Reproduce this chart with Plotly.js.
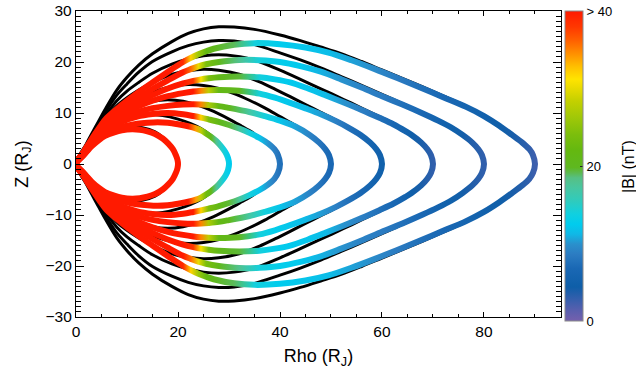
<!DOCTYPE html>
<html>
<head>
<meta charset="utf-8">
<script src="https://cdn.plot.ly/plotly-3.0.1.min.js"></script>
<style>
  html, body { margin: 0; padding: 0; background: #ffffff; }
  #plot { width: 636px; height: 377px; }
</style>
</head>
<body>
<div id="plot"></div>
<script>
// Equatorial crossing distance of each traced field line (R_J)
const shells = [20, 30, 40, 50, 60, 70, 80, 90];

// Northern half of each model field line: cylindrical distance (R_J), height (R_J), |B| (nT)
const rho20 = [0, 1, 2, 3.1, 4.5, 5.7, 7.5, 9, 11, 12.5, 14, 15.5, 17, 18.1, 19, 19.6, 19.9, 20];
const z20   = [0, 1.2, 2.3, 3.5, 4.7, 5.5, 6.2, 6.6, 6.8, 6.7, 6.4, 5.9, 5.0, 4.0, 2.9, 1.7, 0.8, 0];
const b20   = [60, 58, 56, 54, 52, 50, 48, 47, 46, 45, 45, 44, 44, 43, 43, 42, 42, 42];

const rho30 = [0, 1.5, 3, 4.5, 6, 8, 10, 12, 14, 16, 18, 20, 22, 23.5, 24.5, 25.5, 26.5, 27.5, 28.5, 29.3, 29.8, 30];
const z30   = [0, 1.8, 3.6, 5.0, 6.1, 6.9, 7.5, 7.9, 8.1, 8.2, 8.1, 7.8, 7.4, 7.0, 6.6, 6.0, 5.3, 4.5, 3.4, 2.3, 1.2, 0];
const b30   = [60, 58, 56, 54, 52, 50, 49, 48, 47, 46, 45, 44, 41, 34, 28, 23, 20.5, 18, 15, 13.5, 12.8, 12.5];

const rho40 = [0, 1.5, 3, 4.5, 6, 9, 12, 15, 18, 21, 23, 24.5, 26, 28, 30, 32, 34, 36, 37.7, 38.9, 39.6, 40];
const z40   = [0, 1.9, 3.8, 5.4, 6.8, 8.3, 9.3, 9.8, 10.0, 9.75, 9.4, 9.1, 8.75, 8.25, 7.65, 6.95, 6.1, 5.1, 4.0, 2.9, 1.75, 0];
const b40   = [60, 58, 56, 54, 52, 50, 48, 46, 44, 42, 40, 32, 24, 21, 19.5, 17.5, 14, 12, 10, 8.8, 8, 7.5];

const rho50 = [0, 1.5, 3, 4.5, 6, 9, 12, 15, 18, 21, 23, 24.5, 26, 28, 30, 34, 37, 40, 43, 45.8, 47.7, 48.9, 49.6, 50];
const z50   = [0, 2.0, 4.0, 5.8, 7.2, 9.0, 10.2, 10.95, 11.4, 11.65, 11.7, 11.65, 11.55, 11.35, 11.0, 10.2, 9.4, 8.5, 7.35, 5.7, 4.2, 2.9, 1.75, 0];
const b50   = [60, 58, 56, 54, 52, 50, 48, 46, 44, 42, 41, 35, 27, 21.5, 20.5, 17, 14, 12, 10.5, 9, 8, 7.2, 6.8, 6.5];

const rho60 = [0, 1.5, 3, 4.5, 6, 9, 12, 15, 18, 21, 23, 24.5, 26, 28, 32, 36, 39, 42, 45, 48, 51, 53.3, 55.8, 57.7, 58.9, 59.6, 60];
const z60   = [0, 2.1, 4.2, 6.0, 7.6, 9.6, 11.2, 12.4, 13.3, 13.9, 14.2, 14.35, 14.45, 14.5, 14.35, 13.8, 13.0, 12.0, 10.9, 9.75, 8.4, 7.2, 5.7, 4.2, 2.9, 1.75, 0];
const b60   = [60, 58, 56, 54, 52, 50, 48, 46, 44, 42, 41, 35, 28, 21.5, 20, 14, 12.8, 12, 11.3, 10.3, 8.8, 7.6, 6.5, 5.8, 5.4, 5.1, 5];

const rho70 = [0, 1.5, 3, 4.5, 6, 9, 12, 15, 18, 21, 23, 24.5, 26, 28, 32, 36, 39, 42, 45.5, 49, 52.5, 56, 59.5, 62.2, 64.6, 65.8, 67.7, 68.9, 69.6, 70];
const z70   = [0, 2.2, 4.4, 6.3, 8.0, 10.2, 12.0, 13.5, 14.8, 15.8, 16.3, 16.6, 16.8, 17.0, 17.15, 17.0, 16.6, 16.0, 14.8, 13.45, 12.05, 10.6, 9.05, 7.8, 6.45, 5.7, 4.2, 2.9, 1.75, 0];
const b70   = [60, 58, 56, 54, 52, 50, 48, 46, 44, 42, 38, 31, 24, 21, 19.5, 14, 12.8, 12.3, 12, 11.3, 10, 8.8, 7.5, 6.5, 5.5, 4.6, 3.9, 3.4, 3.2, 3];

const rho80 = [0, 1.5, 3, 4.5, 6, 9, 12, 15, 18, 21, 22.5, 24, 25.5, 28, 32, 36, 40, 44, 48, 52, 56, 60, 64, 68, 71, 73.5, 75.8, 77.7, 78.9, 79.6, 80];
const z80   = [0, 2.3, 4.6, 6.6, 8.5, 10.8, 12.8, 14.7, 16.4, 18.0, 18.6, 19.15, 19.55, 20.0, 20.4, 20.35, 20.0, 19.2, 18.1, 16.6, 15.0, 13.3, 11.65, 9.9, 8.5, 7.2, 5.7, 4.2, 2.9, 1.75, 0];
const b80   = [60, 58, 56, 54, 52, 50, 48, 46, 44, 42, 36, 30, 24, 20.5, 18, 14, 12.8, 12.3, 11, 10, 9, 8.5, 7.5, 6.5, 5.6, 5, 4.2, 3.6, 3.3, 3.1, 3];

const rho90 = [0, 1.5, 3, 4.5, 6, 9, 12, 15, 18.5, 21, 22.5, 24, 25.5, 27, 31, 35, 40, 45, 49.5, 54, 58.5, 63, 67.5, 72, 76.5, 80, 83, 85.5, 87.5, 88.9, 89.6, 90];
const z90   = [0, 2.4, 4.8, 7.0, 9.0, 11.6, 13.9, 16.0, 18.4, 20.0, 20.8, 21.5, 22.1, 22.6, 23.4, 23.7, 23.5, 22.85, 21.85, 20.35, 18.65, 16.85, 15.0, 13.1, 11.2, 9.4, 7.5, 5.7, 4.2, 2.9, 1.75, 0];
const b90   = [60, 58, 56, 54, 52, 50, 48, 46, 43, 39, 32, 26, 22, 20.5, 19, 14, 12.5, 12, 11.5, 10.5, 9.5, 8.5, 7.5, 6.5, 6, 5.2, 4.6, 4, 3.4, 3, 2.7, 2.5];

// Northern half of each reference (black) field line
const refRho20 = [0, 1, 2, 3.5, 5, 7, 10, 13, 15.5, 17.3, 18.6, 19.5, 19.9, 20];
const refZ20   = [0, 1.3, 2.6, 4.2, 5.4, 6.6, 7.3, 7.1, 6.3, 5.0, 3.5, 1.9, 0.9, 0];
const refRho30 = [0, 1.5, 3, 5.7, 8, 11, 14, 17, 20, 22.5, 24.5, 26.3, 27.8, 28.7, 29.3, 29.8, 30];
const refZ30   = [0, 2.0, 3.8, 6.6, 8.1, 9.2, 9.7, 9.5, 8.8, 7.9, 6.95, 5.7, 4.4, 3.3, 2.35, 1.2, 0];
const refRho40 = [0, 2, 4, 5.7, 9, 12.3, 15, 18, 21, 24, 27, 30, 32.5, 34.5, 36, 37.7, 38.9, 39.6, 40];
const refZ40   = [0, 2.8, 5.3, 7.3, 9.9, 11.5, 12.3, 12.6, 12.3, 11.5, 10.3, 8.8, 7.4, 6.25, 5.2, 4.05, 2.9, 1.75, 0];
const refRho50 = [0, 2, 4, 5.7, 8, 10, 12.3, 15, 18.8, 22, 25, 28, 31, 34, 37, 40, 43, 45.8, 47.7, 48.9, 49.6, 50];
const refZ50   = [0, 3.0, 5.8, 8.0, 10.3, 11.7, 12.9, 14.1, 15.2, 15.6, 15.4, 14.8, 13.8, 12.5, 11.0, 9.3, 7.6, 5.8, 4.2, 2.9, 1.75, 0];
const refRho60 = [0, 2, 4, 5.7, 8, 10, 12.3, 15, 18.8, 22, 25, 28, 32, 36, 39, 42, 45, 48, 51, 53.3, 55.8, 57.7, 58.9, 59.6, 60];
const refZ60   = [0, 3.2, 6.2, 8.7, 11.4, 13.0, 14.5, 16.0, 17.6, 18.3, 18.6, 18.4, 17.6, 16.1, 14.7, 13.2, 11.65, 10.15, 8.6, 7.3, 5.7, 4.2, 2.9, 1.75, 0];
const refRho70 = [0, 2, 4, 5.7, 8, 10, 12.3, 15, 18.8, 22, 25, 28, 31, 35, 40, 44, 48, 52.5, 56, 59.5, 62.2, 64.6, 65.8, 67.7, 68.9, 69.6, 70];
const refZ70   = [0, 3.5, 6.8, 9.4, 12.4, 14.3, 16.0, 17.8, 19.6, 20.6, 21.2, 21.4, 21.2, 20.4, 18.4, 16.6, 14.75, 12.65, 10.98, 9.3, 7.94, 6.48, 5.7, 4.2, 2.9, 1.75, 0];
const refRho80 = [0, 2, 4, 5.7, 8, 10, 12.3, 15, 18.8, 22, 25, 28, 31, 35, 40, 44, 48, 52, 56, 60, 64, 68, 71, 73.5, 75.8, 77.7, 78.9, 79.6, 80];
const refZ80   = [0, 3.7, 7.2, 10.1, 13.5, 15.7, 18.0, 20.1, 22.0, 23.2, 23.9, 24.2, 24.1, 23.4, 21.8, 20.4, 18.85, 17.15, 15.42, 13.65, 11.85, 10.05, 8.6, 7.25, 5.7, 4.2, 2.9, 1.75, 0];
const refRho90 = [0, 2, 4, 5.7, 8, 10, 12.3, 15, 18.8, 22, 25, 28, 31, 35, 40, 44, 48, 52, 56, 60, 64, 68, 72, 76.5, 80, 83, 85.5, 87.5, 88.9, 89.6, 90];
const refZ90   = [0, 3.9, 7.6, 10.7, 14.5, 17.0, 19.4, 21.6, 24.0, 25.6, 26.5, 26.9, 26.85, 26.4, 25.3, 24.2, 22.95, 21.65, 20.1, 18.45, 16.8, 15.1, 13.35, 11.35, 9.5, 7.55, 5.72, 4.2, 2.9, 1.75, 0];

// Colour bar labels
const bTickVals = [0, 20, 40];
const bTickText = ['0', '20', '> 40'];
const bMax = 40;

// Rainbow colour table for |B|
const bColorscale = [
  [0.000, '#7560ad'], [0.033, '#5a5fae'], [0.065, '#3a5fad'], [0.110, '#0e5ea8'],
  [0.170, '#1a68b4'], [0.215, '#2c7cc2'], [0.248, '#2a90cc'], [0.280, '#10b8e6'],
  [0.312, '#00ccee'], [0.345, '#10d0e0'], [0.388, '#30cbbc'], [0.430, '#48c6a0'],
  [0.462, '#56c084'], [0.478, '#5cba50'], [0.495, '#5eb820'], [0.550, '#64b810'],
  [0.602, '#7cbe0c'], [0.657, '#a0c808'], [0.710, '#c4d000'], [0.755, '#ecdc00'],
  [0.780, '#ffe400'], [0.820, '#ffc000'], [0.862, '#ff9000'], [0.905, '#ff6000'],
  [0.948, '#ff3800'], [1.000, '#ff1a00']
];

const model = {
  20: [rho20, z20, b20], 30: [rho30, z30, b30], 40: [rho40, z40, b40], 50: [rho50, z50, b50],
  60: [rho60, z60, b60], 70: [rho70, z70, b70], 80: [rho80, z80, b80], 90: [rho90, z90, b90]
};
const reference = {
  20: [refRho20, refZ20], 30: [refRho30, refZ30], 40: [refRho40, refZ40], 50: [refRho50, refZ50],
  60: [refRho60, refZ60], 70: [refRho70, refZ70], 80: [refRho80, refZ80], 90: [refRho90, refZ90]
};

// The field lines are symmetric about the equator: trace the north half out to the
// equatorial crossing and come back along the mirrored southern half.
function closedLoop(rho, z) {
  const x = rho.slice(), y = z.slice();
  for (let i = rho.length - 2; i >= 0; i--) { x.push(rho[i]); y.push(-z[i]); }
  return { x, y };
}

function hexToRgb(h) {
  return [parseInt(h.slice(1, 3), 16), parseInt(h.slice(3, 5), 16), parseInt(h.slice(5, 7), 16)];
}
function colourFor(b) {
  const t = Math.max(0, Math.min(1, b / bMax));
  for (let i = 1; i < bColorscale.length; i++) {
    const [t1, c1] = bColorscale[i];
    if (t <= t1) {
      const [t0, c0] = bColorscale[i - 1];
      const f = (t - t0) / (t1 - t0);
      const a = hexToRgb(c0), c = hexToRgb(c1);
      const m = a.map((v, k) => Math.round(v + (c[k] - v) * f));
      return `rgb(${m[0]},${m[1]},${m[2]})`;
    }
  }
  return bColorscale[bColorscale.length - 1][1];
}

const traces = [];
shells.forEach(L => {
  const p = closedLoop(reference[L][0], reference[L][1]);
  traces.push({
    type: 'scatter', mode: 'lines', x: p.x, y: p.y,
    line: { color: '#000000', width: 3, shape: 'spline', smoothing: 0.9 },
    hoverinfo: 'skip', showlegend: false
  });
});
const colouredIndex = {};
shells.forEach(L => {
  const p = closedLoop(model[L][0], model[L][1]);
  const b = model[L][2];
  colouredIndex[L] = traces.length;
  traces.push({
    type: 'scatter', mode: 'lines', x: p.x, y: p.y,
    line: { color: colourFor(b[b.length - 1]), width: 6, shape: 'spline', smoothing: 0.9 },
    hoverinfo: 'skip', showlegend: false
  });
});
// carrier for the |B| colour bar (its single point lies outside the axes)
traces.push({
  type: 'scatter', mode: 'markers', x: [-50], y: [-50],
  hoverinfo: 'skip', showlegend: false,
  marker: {
    color: [0], cmin: 0, cmax: bMax, colorscale: bColorscale, showscale: true, size: 1,
    colorbar: {
      thickness: 18, thicknessmode: 'pixels',
      len: 310, lenmode: 'pixels',
      x: 1.0082, xanchor: 'left', xref: 'paper', xpad: 0,
      y: 1, yanchor: 'top', yref: 'paper', ypad: 0,
      outlinewidth: 1, outlinecolor: '#8a8a8a',
      tickmode: 'array', tickvals: bTickVals, ticktext: bTickText,
      ticks: 'inside', ticklen: 3, tickcolor: '#222222', tickwidth: 1,
      tickfont: { family: 'Liberation Sans, Arial, sans-serif', size: 13, color: '#000000' }
    }
  }
});

const font = 'Liberation Sans, Arial, sans-serif';
const layout = {
  width: 636, height: 377,
  margin: { l: 76, r: 75, t: 11, b: 60, pad: 0 },
  paper_bgcolor: '#ffffff', plot_bgcolor: '#ffffff',
  font: { family: font, color: '#000000', size: 15.5 },
  showlegend: false,
  xaxis: {
    range: [0, 95.1], dtick: 20, tick0: 0,
    showgrid: false, zeroline: false,
    showline: true, linecolor: '#000000', linewidth: 1.3, mirror: 'allticks',
    ticks: 'inside', ticklen: 5, tickwidth: 1, tickcolor: '#000000',
    minor: { dtick: 5, ticks: 'inside', ticklen: 3, tickwidth: 1, tickcolor: '#000000', showgrid: false },
    tickfont: { family: font, size: 15.5 },
    title: { text: 'Rho (R<sub>J</sub>)', font: { family: font, size: 18 }, standoff: 10 }
  },
  yaxis: {
    range: [-30, 30], dtick: 10, tick0: 0,
    showgrid: false, zeroline: false,
    showline: true, linecolor: '#000000', linewidth: 1.3, mirror: 'allticks',
    ticks: 'inside', ticklen: 8, tickwidth: 1, tickcolor: '#000000',
    minor: { dtick: 1, ticks: 'inside', ticklen: 4.5, tickwidth: 1, tickcolor: '#000000', showgrid: false },
    tickfont: { family: font, size: 15.5 },
    title: { text: 'Z (R<sub>J</sub>)', font: { family: font, size: 18 }, standoff: 12 }
  },
  annotations: [{
    text: '|B| (nT)', xref: 'paper', yref: 'paper', x: 1.1402, y: 0.4935,
    xanchor: 'center', yanchor: 'middle', textangle: -90, showarrow: false,
    font: { family: font, size: 16, color: '#000000' }
  }]
};

const gd = document.getElementById('plot');

// Colour each model line along its length with the |B| table: |B| falls
// monotonically with rho along each half, so a horizontal gradient suffices.
function paintLines() {
  const svg = gd.querySelector('svg.main-svg');
  const xa = gd._fullLayout && gd._fullLayout.xaxis;
  if (!svg || !xa) return;
  let defs = svg.querySelector('defs.field-gradients');
  if (defs) defs.remove();
  defs = document.createElementNS('http://www.w3.org/2000/svg', 'defs');
  defs.setAttribute('class', 'field-gradients');
  svg.insertBefore(defs, svg.firstChild);
  const groups = gd.querySelectorAll('.scatterlayer .trace');
  shells.forEach(L => {
    const [rho, , b] = model[L];
    const id = 'fieldgrad' + L;
    const g = document.createElementNS('http://www.w3.org/2000/svg', 'linearGradient');
    g.setAttribute('id', id);
    g.setAttribute('gradientUnits', 'userSpaceOnUse');
    g.setAttribute('x1', xa.c2p(0)); g.setAttribute('x2', xa.c2p(L));
    g.setAttribute('y1', 0); g.setAttribute('y2', 0);
    rho.forEach((r, i) => {
      const s = document.createElementNS('http://www.w3.org/2000/svg', 'stop');
      s.setAttribute('offset', (r / L).toFixed(5));
      s.setAttribute('stop-color', colourFor(b[i]));
      g.appendChild(s);
    });
    defs.appendChild(g);
    const grp = groups[colouredIndex[L]];
    if (!grp) return;
    const path = grp.querySelector('path.js-line');
    if (path) path.style.stroke = `url(#${id})`;
  });
}

Plotly.newPlot(gd, traces, layout, { displayModeBar: false, responsive: false }).then(() => {
  paintLines();
  gd.on('plotly_afterplot', paintLines);
});
</script>
</body>
</html>
